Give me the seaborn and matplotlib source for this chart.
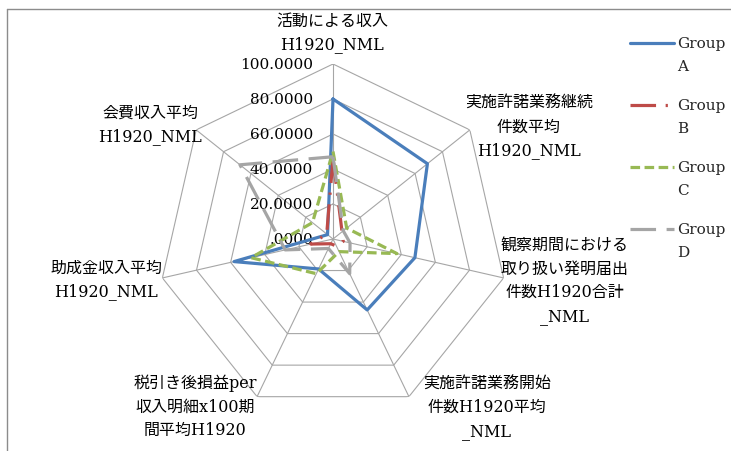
import matplotlib.pyplot as plt
from matplotlib.lines import Line2D
import numpy as np
import seaborn as sns

# Radar axes (clockwise from the top)
axis_labels = [
    "活動による収入\nH1920_NML",
    "実施許諾業務継続\n件数平均\nH1920_NML",
    "観察期間における\n取り扱い発明届出\n件数H1920合計\n_NML",
    "実施許諾業務開始\n件数H1920平均\n_NML",
    "税引き後損益per\n収入明細x100期\n間平均H1920",
    "助成金収入平均\nH1920_NML",
    "会費収入平均\nH1920_NML",
]
group_names = ["Group A", "Group B", "Group C", "Group D"]
group_a = [80, 69, 48, 45, 19, 58, 4]
group_b = [46, 6.6, 6, 4.5, 3, 13, 4.6]
group_c = [50, 10, 37.5, 8, 22, 48, 15]
group_d = [47, 7.5, 10, 22, 6, 28, 68]
r_ticks = [0, 20, 40, 60, 80, 100]
r_tick_labels = [".0000", "20.0000", "40.0000", "60.0000", "80.0000", "100.0000"]

colors = ["#4A7EBB", "#BE4B48", "#98B954", "#A5A5A5"]
styles = ["-", (0, (8, 3, 0.7, 3)), (0, (3, 1.4)), (0, (8, 3.3))]

# label offsets in pixels from the outer vertex of each axis
label_offsets = [(-1, 32), (59, 4), (61, -2), (78, -10), (-62, -9), (-56, -1), (-46, 6)]

sns.set_theme(style="white")
plt.rcParams["font.family"] = ["DejaVu Serif", "Noto Sans CJK JP"]

W, H = 731, 452
fig = plt.figure(figsize=(W / 100, H / 100), dpi=100)
fig.patch.set_facecolor("white")

cx, cy, rad = 333, 240, 175
ax = fig.add_axes([(cx - rad) / W, (H - cy - rad) / H, 2 * rad / W, 2 * rad / H],
                  projection="polar")
ax.set_theta_zero_location("N")
ax.set_theta_direction(-1)
ax.patch.set_alpha(0)
ax.spines["polar"].set_visible(False)
ax.grid(False)

n = len(axis_labels)
angles = np.linspace(0, 2 * np.pi, n, endpoint=False)
closed = np.append(angles, 2 * np.pi)

# heptagon grid and spokes
for r in r_ticks:
    ax.plot(closed, [r] * (n + 1), color="#A6A6A6", lw=0.8, zorder=1)
for a in angles:
    ax.plot([a, a], [0, 100], color="#A6A6A6", lw=0.8, zorder=1)

series = [group_a, group_b, group_c, group_d]
for vals, name, c, ls in zip(series, group_names, colors, styles):
    v = list(vals) + [vals[0]]
    sns.lineplot(x=closed, y=v, sort=False, estimator=None, ax=ax, color=c,
                 linestyle=ls, lw=2.3, zorder=3)

ax.set_ylim(0, 100)
ax.set_xticks([])
ax.set_yticks([])
ax.set_xlabel("")
ax.set_ylabel("")

# radial tick labels along the top axis
for r, lab in zip(r_ticks, r_tick_labels):
    ax.annotate(lab, xy=(0, r), xytext=(-20, 0), textcoords="offset pixels",
                ha="right", va="center", fontsize=11, color="black",
                annotation_clip=False, zorder=2)

# axis category labels
for a, lab, (dx, dy) in zip(angles, axis_labels, label_offsets):
    ax.annotate(lab, xy=(a, 100), xytext=(dx, dy), textcoords="offset pixels",
                ha="center", va="center", multialignment="center",
                fontsize=11.5, color="black", linespacing=1.5,
                annotation_clip=False)

# legend drawn at the right, line aligned with the first text line
leg_y = [44, 106, 168, 230]
for y, name, c, ls in zip(leg_y, group_names, colors, styles):
    fig.add_artist(Line2D([630 / W, 674 / W], [1 - y / H, 1 - y / H],
                          color=c, linestyle=ls, lw=2.3))
    word, letter = name.split(" ")
    fig.text(677 / W, 1 - y / H, word, ha="left", va="center", fontsize=11)
    fig.text(677 / W, 1 - (y + 23) / H, letter, ha="left", va="center", fontsize=11)

# chart area frame (cropped on the right and bottom)
fig.add_artist(Line2D([7 / W, 7 / W], [0, 1 - 10 / H], color="#8C8C8C", lw=1))
fig.add_artist(Line2D([7 / W, 1], [1 - 10 / H, 1 - 10 / H], color="#8C8C8C", lw=1))

fig.savefig("out.png", dpi=100)
